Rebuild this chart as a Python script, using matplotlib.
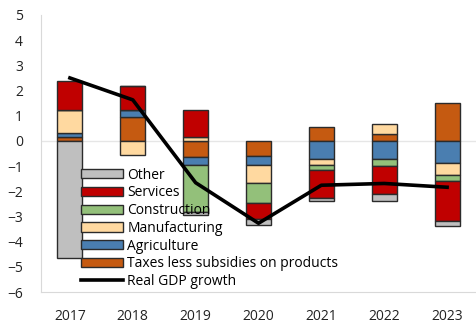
import matplotlib
matplotlib.use("Agg")
import matplotlib.pyplot as plt
import numpy as np

plt.rcParams['font.family'] = ['Open Sans', 'DejaVu Sans']

years = ['2017', '2018', '2019', '2020', '2021', '2022', '2023']

# contributions, in stacking order (first series sits next to zero)
taxes = [0.15, 0.95, -0.65, -0.58, 0.56, 0.27, 1.50]
agriculture = [0.18, 0.29, -0.31, -0.39, -0.71, -0.72, -0.89]
manufacturing = [0.90, -0.55, 0.16, -0.72, -0.26, 0.40, -0.45]
construction = [0.0, 0.0, -1.87, -0.78, -0.20, -0.29, -0.26]
services = [1.16, 0.95, 1.07, -0.63, -1.08, -1.10, -1.60]
other = [-4.65, 0.0, -0.10, -0.22, -0.12, -0.26, -0.16]
gdp = [2.50, 1.63, -1.66, -3.27, -1.76, -1.69, -1.84]

series = [
    ('Taxes less subsidies on products', taxes, '#c55a11'),
    ('Agriculture', agriculture, '#4a7eb0'),
    ('Manufacturing', manufacturing, '#ffd9a0'),
    ('Construction', construction, '#93c07a'),
    ('Services', services, '#c00000'),
    ('Other', other, '#bfbfbf'),
]

fig = plt.figure(figsize=(4.76, 3.23), dpi=100)
ax = fig.add_axes([41 / 476, 1 - 292 / 323, 1 - 41 / 476, 277 / 323])

x = np.arange(len(years))
pos = np.zeros(len(years))
neg = np.zeros(len(years))
handles = []
for name, vals, col in series:
    vals = np.array(vals)
    bottom = np.where(vals >= 0, pos, neg)
    b = ax.bar(x, vals, 0.4, bottom=bottom, color=col, edgecolor='#2b2b2b',
               linewidth=1.0, label=name, zorder=2)
    handles.append(b)
    pos = pos + np.where(vals > 0, vals, 0)
    neg = neg + np.where(vals < 0, vals, 0)

line, = ax.plot(x, gdp, color='black', linewidth=2.6, label='Real GDP growth', zorder=3)

ax.axhline(0, color='#e6e6e6', linewidth=1.0, zorder=1)
ax.set_ylim(-6, 5)
ax.set_yticks(range(-6, 6))
ax.set_xlim(-0.46, 6.46)
ax.set_xticks(x)
ax.set_xticklabels(years)
ax.tick_params(length=0, labelsize=10, colors='#222222')
ax.tick_params(axis='x', pad=12)
ax.tick_params(axis='y', pad=13)
for s in ['top', 'right']:
    ax.spines[s].set_visible(False)
for s in ['left', 'bottom']:
    ax.spines[s].set_color('#d9d9d9')

leg = ax.legend(handles[::-1] + [line], [h.get_label() for h in handles[::-1]] + ['Real GDP growth'],
                loc='lower left', bbox_to_anchor=(0.08, -0.01), frameon=False,
                fontsize=10, handlelength=3.0, handleheight=0.65, handletextpad=0.3,
                labelspacing=0.2, borderaxespad=0)

fig.savefig('out.png', dpi=100)
